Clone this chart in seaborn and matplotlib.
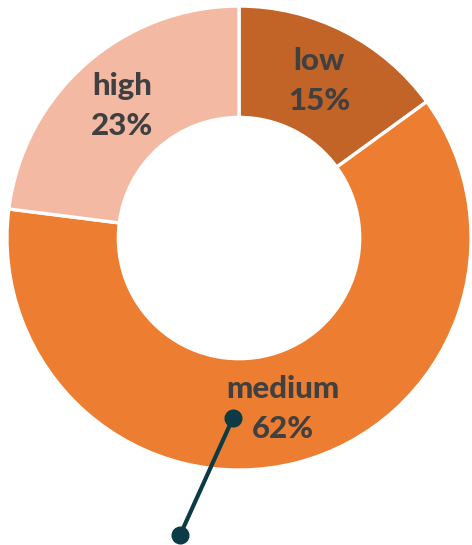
import matplotlib
matplotlib.use("Agg")
import matplotlib.pyplot as plt
import seaborn as sns
import numpy as np

categories = ["low", "medium", "high"]
values = [15, 62, 23]
colors = ["#C26428", "#ED7D31", "#F4B9A2"]
pointer_x = [-0.026, -0.254]
pointer_y = [-0.776, -1.28]

sns.set_theme(style="white")
plt.rcParams['font.family'] = ['Lato', 'DejaVu Sans']

fig = plt.figure(figsize=(4.72, 5.45), dpi=100)
ax = fig.add_axes([0, 0, 1, 1])
wedges, _ = ax.pie(values, colors=colors, startangle=90, counterclock=False,
                   radius=1.0, wedgeprops=dict(width=0.48, edgecolor="white", linewidth=2.4))
total = sum(values)
for w, cat, v in zip(wedges, categories, values):
    mid = np.deg2rad((w.theta1 + w.theta2) / 2)
    r = 0.76
    ax.text(r * np.cos(mid), r * np.sin(mid), f"{cat}\n{round(100 * v / total)}%",
            ha="center", va="center", fontsize=22.5, fontweight="black",
            color="#404040", linespacing=1.5)

ax.plot(pointer_x, pointer_y, color="#0D3B45", lw=3, solid_capstyle="round",
        marker="o", markersize=12)
ax.set_aspect("auto")
ax.set_xlim(-1.030, 1.004)
ax.set_ylim(-1.323, 1.026)
ax.axis("off")
fig.savefig("out.png", dpi=100)
